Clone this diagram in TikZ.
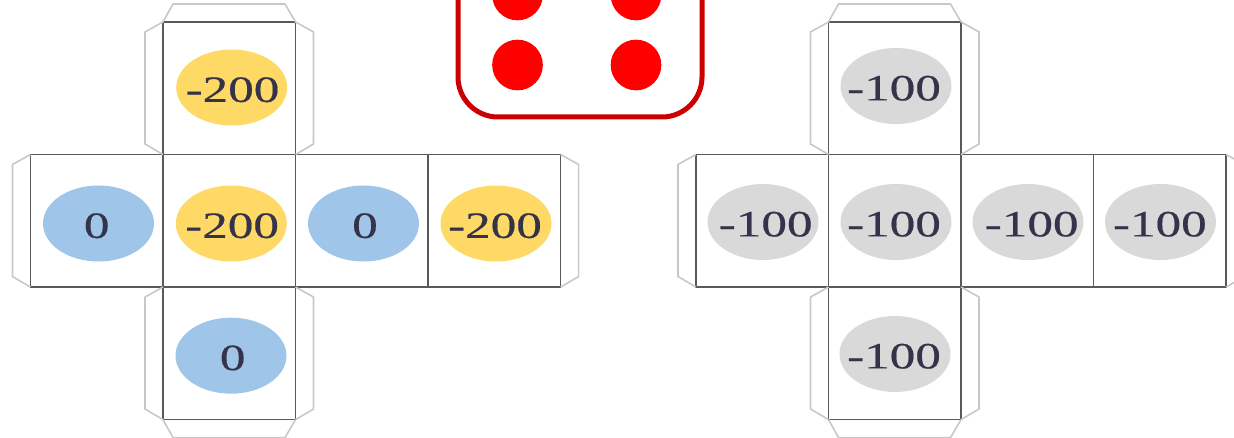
\documentclass[tikz,border=0pt]{standalone}
\usepackage{fontspec}
\setmainfont[FakeStretch=1.38,FakeBold=0.5]{Liberation Serif}
\usepackage{xcolor}
\usetikzlibrary{positioning,shapes.geometric}
\definecolor{facegray}{RGB}{92,88,90}
\definecolor{flapgray}{RGB}{200,200,200}
\definecolor{valyellow}{RGB}{255,217,102}
\definecolor{valblue}{RGB}{159,197,232}
\definecolor{valgray}{RGB}{217,217,217}
\definecolor{valtext}{RGB}{53,51,74}
\definecolor{dicered}{RGB}{204,0,0}
\newcommand{\facevalue}[2]{\makebox[0pt]{\hspace*{#1pt}\raisebox{-10.8pt}[0pt][0pt]{#2}}}

\begin{document}
\begin{tikzpicture}[x=0.75pt,y=-0.75pt,node distance=0pt,every node/.style={font=\fontsize{27.8}{27.8}\selectfont}]
\tikzstyle{face}=[draw=facegray,line width=1pt,minimum size=99.4pt,inner sep=0pt,outer sep=0pt]
\tikzstyle{flap}=[draw=flapgray,line width=1.2pt,line join=round]
\tikzstyle{val}=[ellipse,minimum width=83.25pt,minimum height=57pt,inner sep=0pt,text=valtext]
\tikzstyle{pip}=[circle,fill=red,minimum size=38pt,inner sep=0pt]
\clip (0,0) rectangle (1234,438);
% left net
\node[face] (la) at (229.25,88.25) {};
\node[face,below=of la] (lc) {};
\node[face,left=of lc] (lb) {};
\node[face,right=of lc] (ld) {};
\node[face,right=of ld] (le) {};
\node[face,below=of lc] (lf) {};
\draw[flap] (la.north west)--++(10,-18)--++(112,0)--(la.north east);
\draw[flap] (la.north west)--++(-18,10)--++(0,112)--(la.south west);
\draw[flap] (la.north east)--++(18,10)--++(0,112)--(la.south east);
\draw[flap] (lb.north west)--++(-18,10)--++(0,112)--(lb.south west);
\draw[flap] (le.north east)--++(18,10)--++(0,112)--(le.south east);
\draw[flap] (lf.north west)--++(-18,10)--++(0,112)--(lf.south west);
\draw[flap] (lf.north east)--++(18,10)--++(0,112)--(lf.south east);
\draw[flap] (lf.south west)--++(10,18)--++(112,0)--(lf.south east);
\node[val,fill=valyellow] (lva) at (231.7,87.5) {\facevalue{1.2}{-200}};
\node[val,fill=valblue] (lvb) at (98.5,223.5) {\facevalue{-2.7}{0}};
\node[val,fill=valyellow] (lvc) at (231.3,223.5) {\facevalue{1.2}{-200}};
\node[val,fill=valblue] (lvd) at (363.5,223.5) {\facevalue{2.2}{0}};
\node[val,fill=valyellow] (lve) at (496,223.5) {\facevalue{-1.5}{-200}};
\node[val,fill=valblue] (lvf) at (231,355.7) {\facevalue{2.5}{0}};
% die
\node[draw=dicered,line width=3.75pt,rounded corners=30pt,minimum size=183pt,inner sep=0pt] (die) at (580,-5) {};
\node[pip] (pa) at (517.5,-5) {};
\node[pip] (pb) at (636,-5) {};
\node[pip] (pc) at (517.5,65) {};
\node[pip] (pd) at (636,65) {};
% right net
\node[face] (ra) at (894.75,88.25) {};
\node[face,below=of ra] (rc) {};
\node[face,left=of rc] (rb) {};
\node[face,right=of rc] (rd) {};
\node[face,right=of rd] (re) {};
\node[face,below=of rc] (rf) {};
\draw[flap] (ra.north west)--++(10,-18)--++(112,0)--(ra.north east);
\draw[flap] (ra.north west)--++(-18,10)--++(0,112)--(ra.south west);
\draw[flap] (ra.north east)--++(18,10)--++(0,112)--(ra.south east);
\draw[flap] (rb.north west)--++(-18,10)--++(0,112)--(rb.south west);
\draw[flap] (re.north east)--++(18,10)--++(0,112)--(re.south east);
\draw[flap] (rf.north west)--++(-18,10)--++(0,112)--(rf.south west);
\draw[flap] (rf.north east)--++(18,10)--++(0,112)--(rf.south east);
\draw[flap] (rf.south west)--++(10,18)--++(112,0)--(rf.south east);
\node[val,fill=valgray] (rva) at (896,86) {\facevalue{-3}{-100}};
\node[val,fill=valgray] (rvb) at (763,222) {\facevalue{4}{-100}};
\node[val,fill=valgray] (rvc) at (896,222) {\facevalue{-3}{-100}};
\node[val,fill=valgray] (rvd) at (1028,222) {\facevalue{5.5}{-100}};
\node[val,fill=valgray] (rve) at (1160.5,222) {\facevalue{-1}{-100}};
\node[val,fill=valgray] (rvf) at (895,354) {\facevalue{-1.5}{-100}};
\end{tikzpicture}
\end{document}
